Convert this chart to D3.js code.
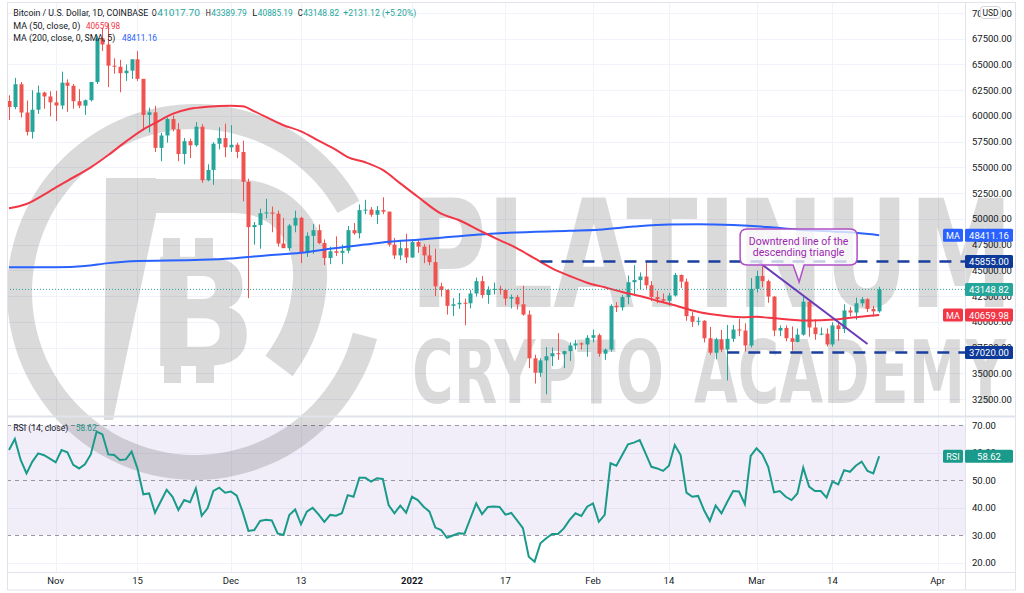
<!DOCTYPE html>
<html><head><meta charset="utf-8">
<script src="https://cdn.jsdelivr.net/npm/d3@7"></script>
<style>
body{margin:0;background:#fff;}
svg{display:block;font-family:Roboto,"Liberation Sans",sans-serif;}
</style></head>
<body><svg id="c" width="1024" height="593"></svg>
<script>
// ---------- DATA ----------
const startDate = "2021-10-24";   // first daily candle
const opens  = [61450,60870,63080,60330,58450,60600,62270,61890,61320,61010,63230,62930,61430,61000,61530,63300,67550,66940,64880,64780,64150,64400,65500,63600,60100,60350,56900,58100,59700,58700,56300,57550,57150,58950,53750,54750,57300,57850,56950,57200,56500,53600,49200,49400,50550,50620,50500,47600,47150,49350,50100,46700,48350,48900,47650,46200,46850,46700,46900,48900,48600,50850,50900,50400,50850,50700,47500,46450,47150,46250,47750,47300,46450,45800,43450,43100,41550,41700,41850,41800,42750,43950,42600,43100,43200,43100,42250,42400,41700,40700,36450,35050,36250,36650,36950,36850,37150,37700,37900,37800,38450,38700,36900,37300,41550,41400,42400,43850,44050,44400,43550,42400,42200,42050,42550,44550,43900,40550,40000,40100,38400,37000,38300,37300,38350,39250,39150,37700,43200,44450,43950,42450,39150,39400,38400,38050,38750,41950,39450,38800,38850,37800,39650,39300,41100,40900,41800,42200,41250,41017.70];
const highs  = [62000,63700,63300,61500,62500,62950,62350,62400,62450,64300,63550,63100,62600,61600,63300,67800,68550,69000,65600,65450,65000,65500,66300,63600,60800,60970,58350,59850,60050,59300,57850,57800,59400,59200,55300,57450,58900,59250,59100,57400,57600,53900,49700,51000,51950,51200,50800,50100,49500,50800,50200,48700,49500,49450,48000,47300,48300,47500,49300,49600,51400,51850,51150,51250,52100,50700,48150,47900,48550,47900,47950,47550,47500,47100,43800,43150,42300,42800,42250,43100,44300,44450,43450,43800,43500,43200,42650,42600,43500,41100,36800,36450,37550,37500,38900,37200,38000,38250,38000,38700,39250,38850,37400,41700,41900,42600,44500,45500,44800,45850,43950,43000,42750,42800,44750,44600,44200,40950,40450,40150,39500,38450,39200,39700,39700,40300,39850,44250,44950,45400,44100,42500,39650,39650,39550,39350,42600,42050,40250,39450,39350,39950,39900,41700,41450,42350,42400,42300,41550,43389.79];
const lows   = [59600,60650,59850,58100,57800,60200,60700,59950,59500,60650,60400,60700,60750,60100,61400,63100,66300,62800,64100,62300,63400,63600,63400,58600,58400,56500,55600,57400,58500,55600,55300,55900,57000,53500,53650,53300,56750,56000,56500,55900,51700,42300,47500,47100,50050,48700,47300,47300,46900,48700,45700,46300,46600,47550,45500,45600,46400,45600,46650,48450,48100,50450,50200,49500,50450,47300,46100,46000,45700,46200,46700,45700,45500,42500,42450,40700,40550,41250,39650,41300,42450,42300,41750,42650,42650,41600,41300,41200,40600,35500,34000,34650,32950,35700,36300,35500,36200,37300,37300,36600,38000,36600,36300,37100,40950,41100,41700,42700,43150,43200,42000,41800,41850,41550,42450,43300,40100,39500,39650,38000,36800,36350,37050,34300,38050,38600,37100,37500,42850,43350,41850,38600,38600,38100,37200,38000,38650,38550,38250,38700,37600,37600,38150,38900,40550,40200,41500,40950,40500,40885.19];
const closes = [60870,63080,60330,58450,60600,62270,61890,61320,61010,63230,62930,61430,61000,61530,63300,67550,66940,64880,64780,64150,64400,65500,63600,60100,60350,56900,58100,59700,58700,56300,57550,57150,58950,53750,54750,57300,57850,56950,57200,56500,53600,49200,49400,50550,50620,50500,47600,47150,49350,50100,46700,48350,48900,47650,46200,46850,46700,46900,48900,48600,50850,50900,50400,50850,50700,47500,46450,47150,46250,47750,47300,46450,45800,43450,43100,41550,41700,41850,41800,42750,43950,42600,43100,43200,43100,42250,42400,41700,40700,36450,35050,36250,36650,36950,36850,37150,37700,37900,37800,38450,38700,36900,37300,41550,41400,42400,43850,44050,44400,43550,42400,42200,42050,42550,44550,43900,40550,40000,40100,38400,37000,38300,37300,38350,39250,39150,37700,43200,44450,43950,42450,39150,39400,38400,38050,38750,41950,39450,38800,38850,37800,39650,39300,41100,40900,41800,42200,41250,41017.70,43148.82];
const rsiValues = [60.9,64.9,57.3,52.4,56.7,59.7,59.0,57.8,56.4,60.9,60.1,55.5,54.2,55.7,59.3,67.6,66.6,59.3,59.1,57.3,57.5,60.3,54.2,44.8,45.1,38.1,42.3,46.4,43.9,39.1,42.7,41.9,47.0,37.0,39.7,46.0,47.2,45.4,45.8,44.3,38.5,31.5,31.8,35.1,35.5,35.3,30.6,30.0,37.3,39.3,33.9,38.5,39.9,37.5,34.8,37.3,37.0,37.9,44.5,43.9,50.8,50.8,49.4,50.6,50.4,40.9,37.9,40.7,38.1,43.9,42.7,40.3,38.5,32.7,31.8,29.0,29.8,30.6,30.5,36.0,41.5,37.6,40.2,40.4,40.2,37.4,38.0,35.3,32.5,22.1,20.3,27.0,28.8,30.4,30.4,32.4,35.5,37.9,36.9,40.3,41.5,34.8,37.3,56.1,55.2,59.1,63.0,63.6,64.5,59.7,54.8,54.2,53.3,55.2,62.7,59.1,45.4,43.9,44.2,39.1,35.1,40.7,37.9,42.1,46.0,45.8,41.2,58.8,61.5,59.3,54.8,45.5,46.0,43.9,42.7,45.1,54.5,47.6,46.0,46.0,43.6,49.4,48.4,53.6,53.0,55.2,56.7,53.3,52.4,58.62];
// moving averages (day offset from startDate, value)
const ma50Day    = [0,3,7,10,14,17,20,23,25,28,31,34,38,40,42,47,50,53,56,58,61,64,67,70,74,77,81,84,87,90,93,96,99,102,105,108,111,114,117,120,123,126,128,130,133,136,139,142,145,147,149];
const ma50Value  = [51030,51450,52700,53700,55000,56200,57500,58700,59300,60200,60700,60900,61000,60950,60450,59100,58500,57600,56700,56000,55500,54750,53450,52150,50500,49890,48750,47940,47140,46160,45190,44450,43800,43350,42900,42500,42050,41600,41100,40750,40550,40450,40480,40400,40250,40120,40150,40250,40450,40560,40659.98];
const ma200Day   = [0,8,13,17,21,33,38,44,50,55,61,65,70,74,84,96,101,107,113,118,124,130,135,141,145,149];
const ma200Value = [45290,45300,45420,45700,45880,46020,46160,46450,46700,47100,47500,47780,47980,48170,48600,48850,48950,49250,49450,49480,49400,49200,48950,48780,48650,48411.16];
// drawn levels and trendline
const levelPrices = [45855, 37020];
const levelStart  = ["2022-01-23","2022-02-24"];
const trendDates  = ["2022-03-01T10:00:00Z","2022-03-20T00:00:00Z"];
const trendPrices = [45800, 37850];
const calloutDate = "2022-03-08T07:00:00Z", calloutPrice = 43860;
const calloutText = ["Downtrend line of the","descending triangle"];
// axes
const priceTicks = [32500,35000,37500,40000,42500,45000,47500,50000,52500,55000,57500,60000,62500,65000,67500,70000];
const rsiTicks = [20,30,40,50,60,70];
const timeTicks = ["2021-11-01","2021-11-15","2021-12-01","2021-12-13","2022-01-01","2022-01-17","2022-02-01","2022-02-14","2022-03-01","2022-03-14","2022-04-01"];
const timeTickLabels = ["Nov","15","Dec","13","2022","17","Feb","14","Mar","14","Apr"];

// ---------- LAYOUT ----------
const DAY = 864e5;
const t0 = new Date(startDate + "T00:00:00Z").getTime();
const dates = closes.map((_, i) => new Date(t0 + i * DAY));
const L = 7, R = 965, TOP = 3, MAIN_B = 416, RSI_T = 418, RSI_B = 572, BOT = 590, FR = 1015;
const pxDay = 5.84, firstX = 9;
const x = d3.scaleUtc()
  .domain([new Date(t0 - firstX / pxDay * DAY), new Date(t0 + (R - firstX) / pxDay * DAY)])
  .range([0, R]);
const y = d3.scaleLinear().domain([32500, 70000]).range([399, 13]);
const yr = d3.scaleLinear().domain([20, 70]).range([562.5, 425]);
const UP = "#26a69a", DN = "#ef5350";
const svg = d3.select("#c");
const txt = "#131722";
const f2 = d3.format(".2f");

svg.append("rect").attr("width", 1024).attr("height", 593).attr("fill", "#fff");
const defs = svg.append("defs");
defs.append("clipPath").attr("id", "cm").append("rect").attr("x", L).attr("y", TOP).attr("width", R - L).attr("height", MAIN_B - TOP);
defs.append("clipPath").attr("id", "cr").append("rect").attr("x", L).attr("y", RSI_T).attr("width", R - L).attr("height", RSI_B - RSI_T);

// grids
const grid = svg.append("g").attr("stroke", "#f0f3fa").attr("stroke-width", 1);
priceTicks.forEach(p => grid.append("line").attr("x1", L).attr("x2", R).attr("y1", Math.round(y(p)) + .5).attr("y2", Math.round(y(p)) + .5));
timeTicks.forEach(d => { const xx = Math.round(x(new Date(d + "T00:00:00Z"))) + .5;
  grid.append("line").attr("x1", xx).attr("x2", xx).attr("y1", TOP).attr("y2", RSI_B); });
// RSI band
svg.append("rect").attr("x", L).attr("width", R - L).attr("y", yr(70)).attr("height", yr(30) - yr(70)).attr("fill", "rgba(126,87,194,0.10)");
[20, 40, 60].forEach(v => grid.append("line").attr("x1", L).attr("x2", R).attr("y1", Math.round(yr(v)) + .5).attr("y2", Math.round(yr(v)) + .5));
[70, 50, 30].forEach(v => svg.append("line").attr("x1", L).attr("x2", R).attr("y1", Math.round(yr(v)) + .5).attr("y2", Math.round(yr(v)) + .5)
  .attr("stroke", "#9598a1").attr("stroke-dasharray", "4,4"));

// watermark
const wm = svg.append("g").attr("opacity", 0.14).attr("fill", "#000");
wm.append("path").attr("transform", "translate(195,292)")
  .attr("d", d3.arc()({innerRadius: 163, outerRadius: 188, startAngle: 104.5 * Math.PI / 180, endAngle: 421 * Math.PI / 180}));
wm.append("path").attr("d", "M106,178 L156,178 L156,215 L113,420 L104,420 Z");
wm.append("path").attr("d", "M150,196 L232,196 C290,196 312,240 310,280 C308,320 294,346 279,366")
  .attr("fill", "none").attr("stroke", "#000").attr("stroke-width", 34);
wm.append("text").attr("x", 147).attr("y", 366).attr("font-family", "DejaVu Sans").attr("font-weight", "bold")
  .attr("font-size", 150).attr("textLength", 110).attr("lengthAdjust", "spacingAndGlyphs").text("B");
[[163, 180], [195, 213]].forEach(([a, b]) => {
  wm.append("rect").attr("x", a).attr("width", b - a).attr("y", 238).attr("height", 22);
  wm.append("rect").attr("x", a + 1).attr("width", b - a).attr("y", 362).attr("height", 21);
});
wm.append("text").attr("x", 410).attr("y", 307).attr("font-family", "DejaVu Sans").attr("font-weight", "bold")
  .attr("font-size", 150).attr("textLength", 603).attr("lengthAdjust", "spacingAndGlyphs").text("PLATINUM");
wm.append("text").attr("x", 412).attr("y", 403).attr("font-family", "DejaVu Sans").attr("font-weight", "bold")
  .attr("font-size", 87).attr("textLength", 252).attr("lengthAdjust", "spacingAndGlyphs").text("CRYPTO");
wm.append("text").attr("x", 694).attr("y", 403).attr("font-family", "DejaVu Sans").attr("font-weight", "bold")
  .attr("font-size", 87).attr("textLength", 312).attr("lengthAdjust", "spacingAndGlyphs").text("ACADEMY");

// main pane series
const main = svg.append("g").attr("clip-path", "url(#cm)");
const candles = main.selectAll("g.c").data(dates.map((d, i) => ({d, o: opens[i], h: highs[i], l: lows[i], c: closes[i]})))
  .join("g").attr("class", "c");
candles.append("line").attr("x1", d => Math.round(x(d.d)) + .5).attr("x2", d => Math.round(x(d.d)) + .5)
  .attr("y1", d => y(d.h)).attr("y2", d => y(d.l)).attr("stroke", d => d.c >= d.o ? UP : DN);
candles.append("rect").attr("x", d => Math.round(x(d.d)) - 1.5).attr("width", 4)
  .attr("y", d => y(Math.max(d.o, d.c))).attr("height", d => Math.max(1, Math.abs(y(d.o) - y(d.c))))
  .attr("fill", d => d.c >= d.o ? UP : DN);

const maLine = d3.line().x(d => x(d.d)).y(d => y(d.v)).curve(d3.curveMonotoneX);
main.append("path").attr("d", maLine(ma200Day.map((k, i) => ({d: new Date(t0 + k * DAY), v: ma200Value[i]}))))
  .attr("fill", "none").attr("stroke", "#2962ff").attr("stroke-width", 2);
main.append("path").attr("d", maLine(ma50Day.map((k, i) => ({d: new Date(t0 + k * DAY), v: ma50Value[i]}))))
  .attr("fill", "none").attr("stroke", "#f23645").attr("stroke-width", 2);

// close price dotted line
main.append("line").attr("x1", L).attr("x2", R).attr("y1", y(closes[closes.length - 1])).attr("y2", y(closes[closes.length - 1]))
  .attr("stroke", UP).attr("stroke-dasharray", "1,2");

// horizontal levels
levelPrices.forEach((p, i) => main.append("line").attr("x1", x(new Date(levelStart[i] + "T00:00:00Z"))).attr("x2", R)
  .attr("y1", y(p)).attr("y2", y(p)).attr("stroke", "#1a3f9c").attr("stroke-width", 2.5).attr("stroke-dasharray", "12,9"));

// trendline
main.append("line").attr("x1", x(new Date(trendDates[0]))).attr("y1", y(trendPrices[0]))
  .attr("x2", x(new Date(trendDates[1]))).attr("y2", y(trendPrices[1]))
  .attr("stroke", "#6a3bb8").attr("stroke-width", 2);

// callout
const cx = x(new Date(calloutDate)), cy = y(calloutPrice);
const bx0 = cx - 59, bx1 = cx + 58, by0 = cy - 53, by1 = cy - 17, r = 7;
main.append("path").attr("d",
  `M${bx0 + r},${by0} H${bx1 - r} Q${bx1},${by0} ${bx1},${by0 + r} V${by1 - r} Q${bx1},${by1} ${bx1 - r},${by1}
   H${cx + 5} L${cx},${cy} L${cx - 6},${by1} H${bx0 + r} Q${bx0},${by1} ${bx0},${by1 - r} V${by0 + r} Q${bx0},${by0} ${bx0 + r},${by0} Z`)
  .attr("fill", "rgba(255,255,255,0.75)").attr("stroke", "#b04fc6").attr("stroke-width", 1.5);
calloutText.forEach((t, i) => main.append("text").attr("x", (bx0 + bx1) / 2).attr("y", by0 + 15.5 + i * 11)
  .attr("text-anchor", "middle").attr("font-size", 10.5).attr("fill", "#9c27b0").text(t));

// RSI
const rsiG = svg.append("g").attr("clip-path", "url(#cr)");
rsiG.append("path").attr("d", d3.line().x((d, i) => x(dates[i])).y(d => yr(d))(rsiValues))
  .attr("fill", "none").attr("stroke", "#1a9a8a").attr("stroke-width", 2);

// frame & separators
const fr = svg.append("g").attr("stroke", "#e0e3eb").attr("fill", "none");
fr.append("rect").attr("x", L + .5).attr("y", TOP - .5).attr("width", FR - L).attr("height", BOT - TOP + .5);
fr.append("line").attr("x1", R + .5).attr("x2", R + .5).attr("y1", TOP).attr("y2", BOT);
fr.append("line").attr("x1", L).attr("x2", FR).attr("y1", MAIN_B + .5).attr("y2", MAIN_B + .5).attr("stroke-width", 2);
fr.append("line").attr("x1", L).attr("x2", FR).attr("y1", RSI_B + .5).attr("y2", RSI_B + .5);

// axis labels
const ax = svg.append("g").attr("font-size", 9.5).attr("fill", txt);
priceTicks.forEach(p => ax.append("text").attr("x", 972).attr("y", y(p) + 3.5).text(f2(p)));
rsiTicks.forEach(v => ax.append("text").attr("x", 972).attr("y", yr(v) + 3.5).text(f2(v)));
timeTicks.forEach((d, i) => ax.append("text").attr("x", x(new Date(d + "T00:00:00Z"))).attr("y", 584)
  .attr("text-anchor", "middle").attr("font-weight", timeTickLabels[i] === "2022" ? "bold" : null).text(timeTickLabels[i]));

// USD box
svg.append("rect").attr("x", 980.5).attr("y", 6.5).attr("width", 20).attr("height", 12).attr("rx", 3)
  .attr("fill", "#fff").attr("stroke", "#d1d4dc");
svg.append("text").attr("x", 990.5).attr("y", 15.5).attr("text-anchor", "middle").attr("font-size", 8.5).attr("fill", txt).text("USD");

// value tags
function tag(yv, value, bg, label) {
  svg.append("rect").attr("x", 965).attr("y", yv - 6.5).attr("width", 48).attr("height", 13).attr("rx", 1.5).attr("fill", bg);
  svg.append("text").attr("x", 989).attr("y", yv + 3.5).attr("text-anchor", "middle").attr("font-size", 9.5).attr("fill", "#fff").text(value);
  if (label) {
    svg.append("rect").attr("x", 943).attr("y", yv - 6.5).attr("width", 20).attr("height", 13).attr("rx", 1.5).attr("fill", bg);
    svg.append("text").attr("x", 953).attr("y", yv + 3.5).attr("text-anchor", "middle").attr("font-size", 9).attr("fill", "#fff").text(label);
  }
}
const last = ma200Value.length - 1;
tag(y(ma200Value[last]), f2(ma200Value[last]), "#2962ff", "MA");
tag(y(levelPrices[0]), f2(levelPrices[0]), "#0d3a98");
tag(y(closes[closes.length - 1]), f2(closes[closes.length - 1]), UP);
tag(y(ma50Value[ma50Value.length - 1]), f2(ma50Value[ma50Value.length - 1]), "#f23645", "MA");
tag(y(levelPrices[1]), f2(levelPrices[1]), "#0d3a98");
tag(yr(rsiValues[rsiValues.length - 1]), f2(rsiValues[rsiValues.length - 1]), "#1a9a8a", "RSI");

// legends (each piece fitted to its width)
const lg = svg.append("g").attr("font-size", 9);
function piece(xp, yp, w, s, col) {
  lg.append("text").attr("x", xp).attr("y", yp).attr("fill", col).attr("textLength", w)
    .attr("lengthAdjust", "spacingAndGlyphs").text(s);
}
const n = closes.length - 1;
const chg = closes[n] - closes[n - 1];
piece(13.3, 16, 135, "Bitcoin / U.S. Dollar, 1D, COINBASE", txt);
[["O", opens[n], 151.7, 200], ["H", highs[n], 205.7, 246.7], ["L", lows[n], 252.3, 292.7], ["C", closes[n], 297.7, 339]].forEach(([k, v, a, b]) => {
  piece(a, 16, 5, k, txt);
  piece(a + 5.5, 16, b - a - 5.5, f2(v), UP);
});
piece(343.3, 16, 73, `+${f2(chg)} (+${f2(chg / closes[n - 1] * 100)}%)`, UP);
piece(13.3, 28.5, 67, "MA (50, close, 0)", txt);
piece(86, 28.5, 34, f2(ma50Value[ma50Value.length - 1]), "#f23645");
piece(13.3, 41, 102, "MA (200, close, 0, SMA, 5)", txt);
piece(122, 41, 35, f2(ma200Value[last]), "#2962ff");
piece(13.3, 431, 55, "RSI (14, close)", txt);
piece(75.7, 431, 21, f2(rsiValues[rsiValues.length - 1]), "#1a9a8a");
</script></body></html>
